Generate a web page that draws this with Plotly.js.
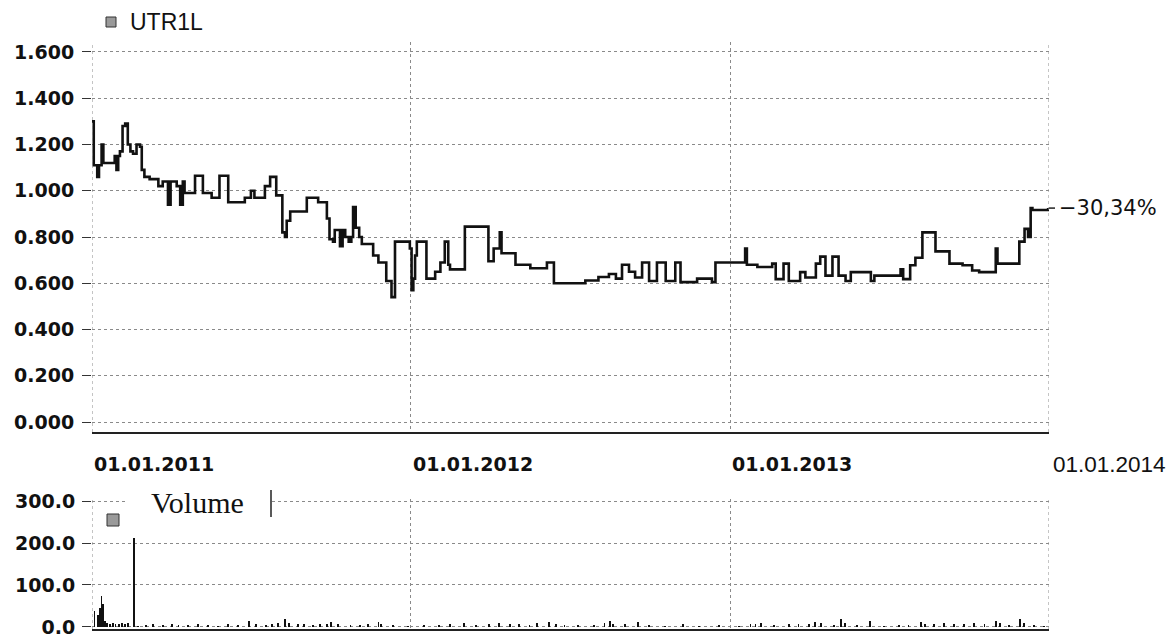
<!DOCTYPE html>
<html>
<head>
<meta charset="utf-8">
<script src="https://cdn.plot.ly/plotly-3.0.1.min.js"></script>
<style>html,body{margin:0;padding:0;background:#fff;}#chart{width:1173px;height:638px;}</style>
</head>
<body>
<div id="chart"></div>
<script>
// ---- data ----
const seriesName = "UTR1L";
const changeLabel = "−30,34%";
const volumeName = "Volume";

const priceDates = [
"2011-01-01","2011-01-03","2011-01-07","2011-01-09","2011-01-12","2011-01-14","2011-01-27","2011-01-29","2011-01-31",
"2011-02-02","2011-02-05","2011-02-08","2011-02-11","2011-02-14","2011-02-17","2011-02-21","2011-02-25","2011-02-27",
"2011-03-02","2011-03-08","2011-03-18","2011-03-23","2011-03-29","2011-04-01","2011-04-08","2011-04-12","2011-04-15",
"2011-04-17","2011-04-29","2011-05-08","2011-05-18","2011-05-27","2011-06-06","2011-06-25","2011-07-02","2011-07-06",
"2011-07-18","2011-07-24","2011-07-31","2011-08-07","2011-08-10","2011-08-12","2011-08-16","2011-09-04","2011-09-17",
"2011-09-27","2011-09-30","2011-10-04","2011-10-06","2011-10-12","2011-10-15","2011-10-18","2011-10-22","2011-10-25",
"2011-10-27","2011-10-30","2011-11-03","2011-11-06","2011-11-19","2011-11-25","2011-12-04","2011-12-10","2011-12-14",
"2011-12-31","2012-01-02","2012-01-04","2012-01-06","2012-01-08","2012-01-19","2012-01-29","2012-02-04","2012-02-09",
"2012-02-13","2012-02-15","2012-03-03","2012-03-30","2012-04-05","2012-04-12","2012-04-14","2012-04-30","2012-05-17",
"2012-06-05","2012-06-13","2012-07-19","2012-08-03","2012-08-15","2012-08-23","2012-08-30","2012-09-07","2012-09-14",
"2012-09-22","2012-09-30","2012-10-09","2012-10-19","2012-10-30","2012-11-05","2012-11-24","2012-12-11","2012-12-15",
"2013-01-18","2013-01-20","2013-02-01","2013-02-18","2013-02-22","2013-03-03","2013-03-09","2013-03-22","2013-03-28",
"2013-04-09","2013-04-14","2013-04-20","2013-04-28","2013-05-05","2013-05-13","2013-05-19","2013-06-11","2013-06-15",
"2013-07-15","2013-07-18","2013-07-26","2013-08-01","2013-08-09","2013-08-24","2013-09-09","2013-09-24","2013-10-05",
"2013-10-13","2013-11-01","2013-11-03","2013-11-28","2013-12-04","2013-12-08","2013-12-11","2013-12-13","2013-12-31"
];
const priceValues = [
1.30,1.11,1.06,1.11,1.20,1.12,1.15,1.09,1.15,
1.17,1.28,1.29,1.20,1.17,1.16,1.20,1.19,1.09,
1.06,1.05,1.02,1.04,0.94,1.04,1.02,0.94,1.04,
0.99,1.065,0.99,0.97,1.065,0.95,0.97,1.00,0.97,
1.02,1.06,0.98,0.82,0.80,0.87,0.91,0.97,0.95,
0.88,0.79,0.78,0.83,0.76,0.83,0.80,0.78,0.80,
0.93,0.84,0.80,0.77,0.72,0.69,0.61,0.54,0.78,
0.75,0.57,0.62,0.72,0.78,0.62,0.65,0.69,0.78,
0.68,0.66,0.845,0.695,0.75,0.82,0.73,0.68,0.665,
0.69,0.60,0.612,0.627,0.64,0.62,0.68,0.65,0.625,
0.69,0.61,0.69,0.61,0.69,0.605,0.62,0.605,0.69,
0.75,0.68,0.67,0.685,0.618,0.685,0.61,0.648,0.625,
0.685,0.715,0.633,0.715,0.633,0.61,0.648,0.61,0.633,
0.66,0.618,0.678,0.71,0.82,0.738,0.685,0.678,0.655,
0.648,0.75,0.685,0.78,0.835,0.80,0.925,0.917,0.925
];

const volumeDates = [
"2011-01-04","2011-01-08","2011-01-10","2011-01-12","2011-01-14","2011-01-16","2011-01-18","2011-01-22","2011-01-25",
"2011-01-28","2011-02-01","2011-02-04","2011-02-08","2011-02-11","2011-02-18","2011-02-23","2011-03-04","2011-03-12",
"2011-03-23","2011-04-03","2011-04-10","2011-04-21","2011-05-02","2011-05-14","2011-05-25","2011-06-06","2011-06-17",
"2011-06-30","2011-07-08","2011-07-19","2011-07-26","2011-08-02","2011-08-10","2011-08-15","2011-08-25","2011-09-01",
"2011-09-11","2011-09-19","2011-09-27","2011-10-02","2011-10-10","2011-10-24","2011-11-04","2011-11-13","2011-11-25",
"2011-11-28","2011-12-12","2011-12-29","2012-01-16","2012-02-02","2012-02-15","2012-03-02","2012-03-16","2012-03-31",
"2012-04-11","2012-04-24","2012-05-04","2012-05-16","2012-05-25","2012-06-07","2012-06-15","2012-06-25","2012-07-11",
"2012-07-29","2012-08-10","2012-08-16","2012-08-20","2012-09-02","2012-09-17","2012-09-30","2012-10-18","2012-11-08",
"2012-11-26","2012-12-19","2013-01-11","2013-01-24","2013-01-30","2013-02-05","2013-02-20","2013-03-09","2013-03-20",
"2013-04-01","2013-04-08","2013-04-15","2013-04-30","2013-05-08","2013-05-12","2013-05-26","2013-06-10","2013-06-26",
"2013-07-13","2013-07-24","2013-08-07","2013-08-12","2013-08-22","2013-09-03","2013-09-14","2013-09-26","2013-10-07",
"2013-10-19","2013-11-01","2013-11-06","2013-11-16","2013-11-29","2013-12-03","2013-12-15","2013-12-26"
];
const volumeValues = [
37,28,45,74,55,14,10,8,9,
7,8,10,6,9,212,3,5,7,
4,6,5,4,6,5,3,6,4,
15,6,5,8,10,18,10,6,8,
5,8,7,12,6,4,5,6,12,
8,4,3,4,5,6,9,5,6,
10,6,7,5,10,12,6,5,4,
5,10,14,8,6,12,4,3,6,
3,4,3,8,7,9,4,6,8,
7,12,10,5,18,9,4,15,3,
4,4,11,8,6,9,8,7,9,
8,15,9,5,18,10,4,3
];

const priceTicks = [0, 0.2, 0.4, 0.6, 0.8, 1.0, 1.2, 1.4, 1.6];
const priceTickText = ["0.000","0.200","0.400","0.600","0.800","1.000","1.200","1.400","1.600"];
const volumeTicks = [0, 100, 200, 300];
const volumeTickText = ["0.0","100.0","200.0","300.0"];
const dateTicks = ["2011-01-01","2012-01-01","2013-01-01","2014-01-01"];
const dateTickText = ["01.01.2011","01.01.2012","01.01.2013","01.01.2014"];

// ---- layout helpers (pixel -> paper) ----
const W = 1173, H = 638;
const px = x => x / W;
const py = y => (H - y) / H;

const tickFont = {family: "DejaVu Sans, sans-serif", size: 19, color: "#111", weight: "bold"};
const gridCol = "#8a8a8a";

const traces = [
  {
    type: "scatter", mode: "lines", x: priceDates, y: priceValues,
    line: {shape: "hv", color: "#111", width: 2.6},
    xaxis: "x", yaxis: "y", hoverinfo: "skip", showlegend: false
  },
  {
    type: "bar", x: volumeDates, y: volumeValues,
    marker: {color: "#111", line: {width: 0}},
    width: 86400000 * 2,
    xaxis: "x2", yaxis: "y2", hoverinfo: "skip", showlegend: false
  }
];

const xCommon = {
  type: "date", range: ["2011-01-01", "2014-01-01"],
  tickmode: "array", tickvals: dateTicks, showticklabels: false,
  showgrid: true, gridcolor: gridCol, griddash: "dot", gridwidth: 1,
  ticks: "", zeroline: false,
  showline: true, linecolor: "#222", linewidth: 2
};

const annotations = [];
dateTicks.forEach((d, i) => {
  const last = i === dateTicks.length - 1;
  annotations.push({
    xref: "x", yref: "paper", x: d, y: py(464),
    text: dateTickText[i], showarrow: false, xanchor: "left", yanchor: "middle",
    xshift: last ? 2 : 0,
    font: last ? {family: "Liberation Sans, Arial, sans-serif", size: 22.5, color: "#111"} : tickFont
  });
});
annotations.push({
  xref: "paper", yref: "paper", x: px(128), y: py(22), text: seriesName, showarrow: false,
  xanchor: "left", yanchor: "middle",
  font: {family: "Liberation Sans, Arial, sans-serif", size: 23, color: "#111"}
});
annotations.push({
  xref: "paper", yref: "y", x: px(1057), y: priceValues[priceValues.length - 1], text: changeLabel,
  showarrow: false, xanchor: "left", yanchor: "middle",
  font: {family: "DejaVu Sans, sans-serif", size: 21, color: "#111"}
});
annotations.push({
  xref: "paper", yref: "paper", x: px(149), y: py(503), text: volumeName, showarrow: false,
  xanchor: "left", yanchor: "middle",
  font: {family: "Liberation Serif, Times New Roman, serif", size: 30, color: "#111"}
});

const shapes = [
  // dotted left / right frame lines on both panels
  {type: "line", xref: "x", yref: "y domain", x0: dateTicks[0], x1: dateTicks[0], y0: 0, y1: 1,
   line: {color: gridCol, width: 1, dash: "dot"}},
  {type: "line", xref: "x", yref: "y domain", x0: dateTicks[3], x1: dateTicks[3], y0: 0, y1: 1,
   line: {color: gridCol, width: 1, dash: "dot"}},
  {type: "line", xref: "x2", yref: "y2 domain", x0: dateTicks[0], x1: dateTicks[0], y0: 0, y1: 1,
   line: {color: gridCol, width: 1, dash: "dot"}},
  {type: "line", xref: "x2", yref: "y2 domain", x0: dateTicks[3], x1: dateTicks[3], y0: 0, y1: 1,
   line: {color: gridCol, width: 1, dash: "dot"}},
  // legend swatch price
  {type: "rect", xref: "paper", yref: "paper", x0: px(106), x1: px(116), y0: py(27), y1: py(17),
   fillcolor: "#9a9a9a", line: {color: "#333", width: 1}},
  // volume legend white box hiding grid
  {type: "rect", xref: "paper", yref: "paper", x0: px(126), x1: px(271), y0: py(528), y1: py(490),
   fillcolor: "#ffffff", line: {width: 0}, layer: "above"},
  {type: "line", xref: "paper", yref: "paper", x0: px(271), x1: px(271), y0: py(517), y1: py(490),
   line: {color: "#222", width: 1.5}, layer: "above"},
  // volume swatch
  {type: "rect", xref: "paper", yref: "paper", x0: px(107), x1: px(119), y0: py(526), y1: py(514),
   fillcolor: "#9a9a9a", line: {color: "#333", width: 1}, layer: "above"},
  // right-edge marker for last value
  {type: "line", xref: "paper", yref: "y", x0: px(1049), x1: px(1055),
   y0: priceValues[priceValues.length - 1], y1: priceValues[priceValues.length - 1],
   line: {color: "#222", width: 1.5}}
];

const layout = {
  width: W, height: H,
  margin: {l: 0, r: 0, t: 0, b: 0},
  paper_bgcolor: "#fff", plot_bgcolor: "#fff",
  showlegend: false,
  xaxis: Object.assign({}, xCommon, {domain: [px(92), px(1049)], anchor: "y"}),
  xaxis2: Object.assign({}, xCommon, {domain: [px(92), px(1049)], anchor: "y2", linewidth: 1.5}),
  yaxis: {
    domain: [py(432), py(42)], range: [-0.043, 1.643],
    tickmode: "array", tickvals: priceTicks, ticktext: priceTickText,
    tickfont: tickFont, ticks: "outside", ticklen: 9, tickcolor: "#333", tickwidth: 1,
    ticklabelstandoff: 4,
    showgrid: true, gridcolor: gridCol, griddash: "dot", zeroline: false, showline: false
  },
  yaxis2: {
    domain: [py(629), py(499)], range: [-4.8, 304.8],
    tickmode: "array", tickvals: volumeTicks, ticktext: volumeTickText,
    tickfont: tickFont, ticks: "outside", ticklen: 9, tickcolor: "#333", tickwidth: 1,
    ticklabelstandoff: 3,
    showgrid: true, gridcolor: gridCol, griddash: "dot", zeroline: false, showline: false
  },
  annotations: annotations,
  shapes: shapes,
  bargap: 0
};

Plotly.newPlot("chart", traces, layout, {staticPlot: true, displayModeBar: false});
</script>
</body>
</html>
